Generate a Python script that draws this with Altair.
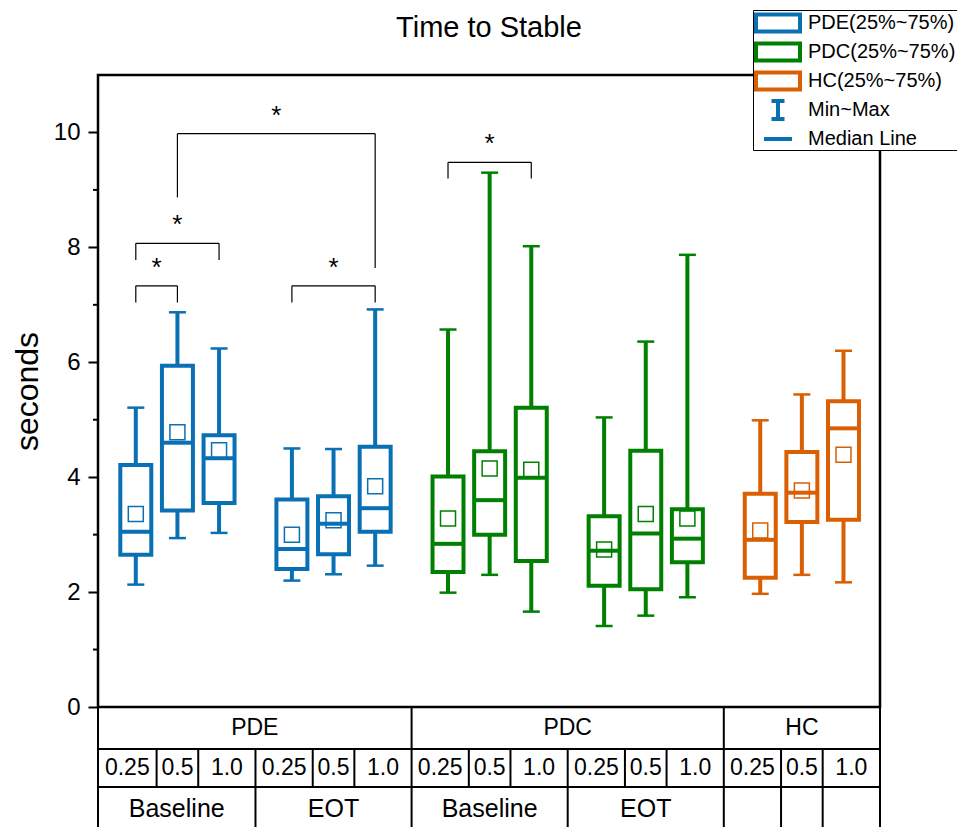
import altair as alt
import pandas as pd

# ---------------- values ----------------
group_cohort = ["PDE", "PDE", "PDC", "PDC", "HC"]
group_session = ["Baseline", "EOT", "Baseline", "EOT", ""]
concentrations = ["0.25", "0.5", "1.0"]
cohort_names = ["PDE", "PDC", "HC"]

box_min = [2.13, 2.94, 3.03, 2.20, 2.31, 2.46, 1.99, 2.30, 1.66, 1.41, 1.59, 1.91, 1.97, 2.30, 2.17]
box_q1 = [2.65, 3.42, 3.55, 2.40, 2.66, 3.05, 2.35, 3.00, 2.54, 2.11, 2.05, 2.52, 2.25, 3.22, 3.26]
box_med = [3.05, 4.60, 4.33, 2.75, 3.19, 3.46, 2.84, 3.60, 3.99, 2.72, 3.02, 2.93, 2.91, 3.73, 4.85]
box_q3 = [4.21, 5.94, 4.73, 3.61, 3.67, 4.53, 4.01, 4.45, 5.21, 3.32, 4.46, 3.44, 3.71, 4.44, 5.32]
box_max = [5.21, 6.87, 6.24, 4.50, 4.49, 6.92, 6.57, 9.30, 8.02, 5.04, 6.36, 7.87, 4.99, 5.44, 6.20]
box_mean = [3.36, 4.78, 4.47, 3.00, 3.25, 3.84, 3.28, 4.15, 4.13, 2.74, 3.36, 3.28, 3.07, 3.77, 4.39]

sig_from = [0, 0, 1, 3, 6]
sig_to = [1, 2, 5, 5, 8]
sig_top = [7.33, 8.07, 9.98, 7.33, 9.48]
sig_left_end = [7.04, 7.78, 8.87, 7.04, 9.20]
sig_right_end = [7.04, 7.78, 7.64, 7.04, 9.20]
sig_mark = ["*", "*", "*", "*", "*"]

major_ticks = [0, 2, 4, 6, 8, 10]
minor_ticks = [1, 3, 5, 7, 9]

legend_labels = ["PDE(25%~75%)", "PDC(25%~75%)", "HC(25%~75%)", "Min~Max", "Median Line"]

# ---------------- styles / layout ----------------
BLUE, GREEN, ORANGE = "#0A70B4", "#008000", "#D95F02"
cohort_colors = [BLUE, GREEN, ORANGE]
legend_colors = [BLUE, GREEN, ORANGE, BLUE, BLUE]
legend_shapes = [
    "M-2.2,-0.85H2.2V0.85H-2.2Z",
    "M-2.2,-0.85H2.2V0.85H-2.2Z",
    "M-2.2,-0.85H2.2V0.85H-2.2Z",
    "M-0.65,-0.9H0.65M0,-0.9V0.9M-0.65,0.9H0.65",
    "M-1.4,0H1.4",
]
FONT = "Liberation Sans"
W, H = 782, 632
XMAX = 18.785
FIRST, STEP = 0.908, 3.75
HALF_BOX, HALF_CAP = 0.372, 0.204

n = len(box_min)
pos = [FIRST + STEP * (k // 3) + (k % 3) for k in range(n)]

df = pd.DataFrame({
    "cohort": [group_cohort[k // 3] for k in range(n)],
    "pos": pos,
    "mn": box_min, "q1": box_q1, "med": box_med, "q3": box_q3, "mx": box_max, "mean": box_mean,
})
df["xl"] = df["pos"] - HALF_BOX
df["xr"] = df["pos"] + HALF_BOX
df["cl"] = df["pos"] - HALF_CAP
df["cr"] = df["pos"] + HALF_CAP

bdf = pd.DataFrame({
    "bxl": [pos[i] for i in sig_from],
    "bxr": [pos[i] for i in sig_to],
    "top": sig_top, "ll": sig_left_end, "rl": sig_right_end, "star": sig_mark,
})
bdf["bxm"] = (bdf["bxl"] + bdf["bxr"]) / 2

# ---------------- table under the axis ----------------
def left_edge(k):
    return 0.0 if k == 0 else (pos[k - 1] + pos[k]) / 2


def right_edge(k):
    return XMAX if k == n - 1 else (pos[k] + pos[k + 1]) / 2


row_cohort = [group_cohort[k // 3] for k in range(n)]
row_conc = [concentrations[k % 3] for k in range(n)]
row_session = [group_session[k // 3] for k in range(n)]


def cells(labels, per_box=False):
    out = []
    start = 0
    for k in range(1, n + 1):
        if k == n or per_box or labels[k] != labels[start] or labels[start] == "":
            out.append((labels[start], left_edge(start), right_edge(k - 1)))
            start = k
    return out


rows = [cells(row_cohort), cells(row_conc, per_box=True), cells(row_session)]
row_top = [H, H + 42, H + 80]
row_bot = [H + 42, H + 80, H + 125]
row_mid = [H + 21, H + 61, H + 102]
row_font = [23, 23, 25]

cell_recs, line_recs = [], []
for r, cl in enumerate(rows):
    for lab, lo, hi in cl:
        cell_recs.append({"row": r, "label": lab, "mid": (lo + hi) / 2})
        line_recs.append({"row": r, "lx": lo})
    line_recs.append({"row": r, "lx": XMAX})
cdf = pd.DataFrame(cell_recs)
ldf = pd.DataFrame(line_recs)

# ---------------- chart ----------------
xs = alt.Scale(domain=[0, XMAX], nice=False, zero=False)
ys = alt.Scale(domain=[0, 11], nice=False, zero=False)
S = alt.Stroke("cohort:N", scale=alt.Scale(domain=cohort_names, range=cohort_colors), legend=None)

y_axis = alt.Axis(
    title="seconds", values=major_ticks, orient="left",
    tickSize=10, tickWidth=2, tickColor="black", domain=False, grid=False,
    labelFont=FONT, labelFontSize=24, labelColor="black", labelPadding=8,
    titleFont=FONT, titleFontSize=32, titleFontWeight="normal", titleColor="black",
    titlePadding=9,
)


def X(f):
    return alt.X(f"{f}:Q", scale=xs, axis=None)


def Y(f):
    return alt.Y(f"{f}:Q", scale=ys, axis=y_axis, title="seconds")


base = alt.Chart(df)
whisk_lo = base.mark_rule(strokeWidth=4).encode(x=X("pos"), y=Y("mn"), y2="q1", stroke=S)
whisk_hi = base.mark_rule(strokeWidth=4).encode(x=X("pos"), y=Y("q3"), y2="mx", stroke=S)
cap_lo = base.mark_rule(strokeWidth=2.5).encode(x=X("cl"), x2="cr", y=Y("mn"), stroke=S)
cap_hi = base.mark_rule(strokeWidth=2.5).encode(x=X("cl"), x2="cr", y=Y("mx"), stroke=S)
boxes = base.mark_rect(fill="white", strokeWidth=4).encode(
    x=X("xl"), x2="xr", y=Y("q1"), y2="q3", stroke=S)
medians = base.mark_rule(strokeWidth=4).encode(x=X("xl"), x2="xr", y=Y("med"), stroke=S)
means = base.mark_point(shape="square", filled=False, size=225, strokeWidth=1.5, opacity=1).encode(
    x=X("pos"), y=Y("mean"), stroke=S)

minor = alt.Chart(pd.DataFrame({"v": minor_ticks})).mark_rule(color="black", strokeWidth=2).encode(
    y=Y("v"), x=alt.value(-5), x2=alt.value(0))

bb = alt.Chart(bdf)
br_l = bb.mark_rule(color="black", strokeWidth=1.2).encode(x=X("bxl"), y=Y("ll"), y2="top")
br_r = bb.mark_rule(color="black", strokeWidth=1.2).encode(x=X("bxr"), y=Y("rl"), y2="top")
br_t = bb.mark_rule(color="black", strokeWidth=1.2).encode(x=X("bxl"), x2="bxr", y=Y("top"))
stars = bb.mark_text(font=FONT, fontSize=26, baseline="alphabetic", dy=-10, color="black").encode(
    x=X("bxm"), y=Y("top"), text="star:N")

table_layers = []
for r in range(3):
    table_layers.append(
        alt.Chart(ldf).transform_filter(f"datum.row == {r}").mark_rule(color="black", strokeWidth=2).encode(
            x=X("lx"), y=alt.value(row_top[r]), y2=alt.value(row_bot[r])))
    table_layers.append(
        alt.Chart(cdf).transform_filter(f"datum.row == {r}").mark_text(
            font=FONT, fontSize=row_font[r], color="black", align="center", baseline="middle").encode(
            x=X("mid"), y=alt.value(row_mid[r]), text="label:N"))
for yy in row_top[1:]:
    table_layers.append(
        alt.Chart(ldf).mark_rule(color="black", strokeWidth=2).encode(
            x=alt.value(0), x2=alt.value(W), y=alt.value(yy)))

leg_def = alt.Legend(
    title=None, orient="none", legendX=655, legendY=-65,
    symbolSize=400, symbolStrokeWidth=4, symbolOffset=12, symbolOpacity=1,
    labelOffset=18, labelFont=FONT, labelFontSize=20, labelColor="black", labelLimit=400,
    strokeColor="black", fillColor="white", padding=1, rowPadding=-20, gridAlign="all",
)
legend_df = pd.DataFrame({"lbl": legend_labels})
legend_layer = alt.Chart(legend_df).transform_filter("false").mark_point(
    filled=False, strokeWidth=4, opacity=1).encode(
    color=alt.Color("lbl:N", scale=alt.Scale(domain=legend_labels, range=legend_colors), legend=leg_def),
    shape=alt.Shape("lbl:N", scale=alt.Scale(domain=legend_labels, range=legend_shapes), legend=leg_def),
)

chart = alt.layer(
    whisk_lo, whisk_hi, cap_lo, cap_hi, boxes, medians, means, minor,
    br_l, br_r, br_t, stars, *table_layers, legend_layer,
).properties(
    width=W, height=H,
    title=alt.TitleParams("Time to Stable", font=FONT, fontSize=29, fontWeight="normal",
                          color="black", anchor="middle", frame="group", offset=-56,
                          baseline="alphabetic"),
    autosize=alt.AutoSizeParams(type="none"),
    padding={"left": 90, "top": 67, "right": 77, "bottom": 120},
).configure(font=FONT).configure_view(stroke="black", strokeWidth=2.5)

chart.save("out.html", embed_options={"renderer": "svg", "actions": False})
